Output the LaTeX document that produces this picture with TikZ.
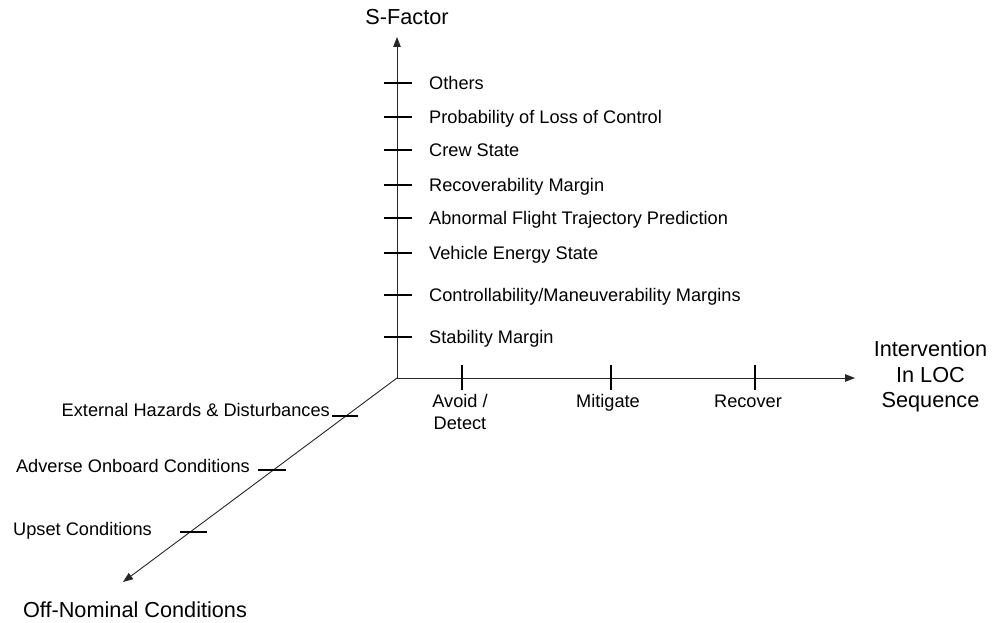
\documentclass[tikz,border=0pt]{standalone}
\usepackage{fontspec}
\setmainfont{Liberation Sans}
\usetikzlibrary{arrows.meta}
\begin{document}
\begin{tikzpicture}[x=1bp,y=-1bp,
  axis/.style={line width=0.9bp,draw=black!85,-{Triangle[length=10bp,width=7.5bp]}},
  tick/.style={line width=1.8bp,draw=black},
  lbl/.style={inner sep=0pt,font=\fontsize{18.2bp}{22bp}\selectfont},
  big/.style={inner sep=0pt,font=\fontsize{21.7bp}{25.3bp}\selectfont,align=center}]
\useasboundingbox (0,0) rectangle (992,623);
% axes
\coordinate (O) at (397,378);
\coordinate (Ytip) at (397,37);
\coordinate (Xtip) at (855,378);
\coordinate (Ztip) at (123,582);
\draw[axis] (O) -- (Ytip);
\draw[axis] (O) -- (Xtip);
\draw[axis] (O) -- (Ztip);
% axis titles
\node[big,anchor=base] (sf) at (407,25) {S-Factor};
\node[big,anchor=base] (iv) at (930.5,407.3) {Intervention\\In LOC\\Sequence};
\node[big,anchor=base] (on) at (135,617) {Off-Nominal Conditions};
% vertical ticks and labels
\foreach \y/\t [count=\i] in {83/Others,117/Probability of Loss of Control,150/Crew State,185/Recoverability Margin,218/Abnormal Flight Trajectory Prediction,253/Vehicle Energy State,295/{Controllability/Maneuverability Margins},337/Stability Margin}{
  \draw[tick] (384,\y) -- (412,\y);
  \node[lbl,anchor=base west] (v\i) at (429,\y+6.2) {\t};
}
% horizontal ticks and labels
\draw[tick] (462,365) -- (462,390);
\draw[tick] (611,365) -- (611,390);
\draw[tick] (755,365) -- (755,390);
\node[lbl,anchor=base,align=center] (h1) at (460,429) {Avoid /\\Detect};
\node[lbl,anchor=base] (h2) at (608,407) {Mitigate};
\node[lbl,anchor=base] (h3) at (748,407) {Recover};
% diagonal ticks and labels
\draw[tick] (332,416) -- (358,416);
\draw[tick] (258,470) -- (286,470);
\draw[tick] (180,532) -- (207,532);
\node[lbl,anchor=base east] (d1) at (330,416) {External Hazards \& Disturbances};
\node[lbl,anchor=base east] (d2) at (250,472) {Adverse Onboard Conditions};
\node[lbl,anchor=base east] (d3) at (152,535) {Upset Conditions};
\end{tikzpicture}
\end{document}
